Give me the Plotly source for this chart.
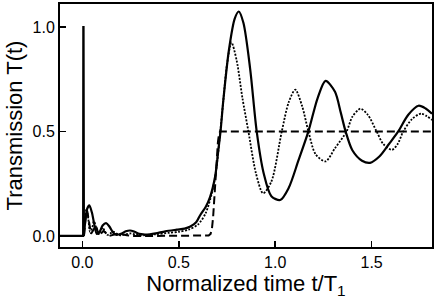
import plotly.graph_objects as go

# ---- data ----
spike_t = [-0.116, 0.004, 0.005, 0.006, 0.008]
spike_T = [0.0, 0.0, 1.0, 1.0, 0.0]

solid_t = [0.008, 0.015, 0.025, 0.036, 0.05, 0.063, 0.075, 0.09, 0.105, 0.123, 0.14, 0.16, 0.178, 0.2, 0.225,
           0.247, 0.27, 0.295, 0.316, 0.35, 0.38, 0.43, 0.49, 0.53, 0.56, 0.59, 0.61, 0.64, 0.662, 0.688,
           0.705, 0.717, 0.731, 0.76, 0.79, 0.811, 0.835, 0.87, 0.904, 0.94, 0.98, 1.026, 1.07, 1.12,
           1.172, 1.22, 1.261, 1.31, 1.34, 1.365, 1.4, 1.45, 1.492, 1.54, 1.59, 1.638, 1.69, 1.743,
           1.78, 1.813]
solid_T = [0.0, 0.07, 0.13, 0.146, 0.11, 0.05, 0.01, 0.02, 0.05, 0.061, 0.045, 0.015, 0.005, 0.01, 0.022,
           0.026, 0.02, 0.01, 0.007, 0.008, 0.012, 0.022, 0.03, 0.035, 0.045, 0.065, 0.098, 0.14, 0.186, 0.282,
           0.41, 0.506, 0.65, 0.89, 1.04, 1.074, 1.02, 0.8, 0.5, 0.3, 0.19, 0.172, 0.23, 0.36,
           0.5, 0.66, 0.742, 0.69, 0.59, 0.5, 0.41, 0.36, 0.35, 0.38, 0.44, 0.5, 0.58, 0.623,
           0.61, 0.585]

dotted_t = [0.008, 0.014, 0.022, 0.031, 0.04, 0.05, 0.06, 0.072, 0.085, 0.095, 0.105, 0.118, 0.13, 0.145,
            0.16, 0.18, 0.2, 0.225, 0.25, 0.275, 0.3, 0.38, 0.45, 0.5, 0.55, 0.6, 0.64, 0.67, 0.69, 0.71,
            0.73, 0.75, 0.773, 0.8, 0.83, 0.861, 0.9, 0.937, 0.98, 1.034, 1.07, 1.104, 1.14, 1.172, 1.21,
            1.261, 1.31, 1.37, 1.4, 1.442, 1.48, 1.526, 1.56, 1.606, 1.635, 1.664, 1.71, 1.757, 1.813]
dotted_T = [0.0, 0.09, 0.13, 0.08, 0.02, 0.035, 0.07, 0.04, 0.01, 0.025, 0.04, 0.02, 0.005, 0.012,
            0.02, 0.01, 0.003, 0.008, 0.012, 0.007, 0.003, 0.008, 0.015, 0.02, 0.03, 0.055, 0.11, 0.2, 0.29, 0.45,
            0.64, 0.82, 0.926, 0.84, 0.66, 0.5, 0.3, 0.204, 0.26, 0.5, 0.64, 0.70, 0.62, 0.5, 0.39,
            0.357, 0.42, 0.5, 0.57, 0.609, 0.58, 0.5, 0.44, 0.412, 0.44, 0.5, 0.56, 0.585, 0.555]

dashed_t = [0.008, 0.016, 0.025, 0.035, 0.045, 0.058, 0.07, 0.08, 0.09, 0.1, 0.11, 0.125, 0.14, 0.17,
            0.2, 0.23, 0.26, 0.35, 0.45, 0.55, 0.62, 0.655, 0.665, 0.672, 0.678, 0.685, 0.695, 0.703, 0.709,
            0.714, 1.813]
dashed_T = [0.0, 0.08, 0.12, 0.06, 0.01, 0.03, 0.05, 0.02, 0.0, 0.015, 0.025, 0.01, 0.0, 0.008,
            0.01, 0.003, 0.0, 0.0, 0.0, 0.0, 0.0, 0.002, 0.01, 0.035, 0.09, 0.2, 0.36, 0.45, 0.49,
            0.5, 0.5]

x_ticks = [0.0, 0.5, 1.0, 1.5]
x_tick_labels = ["0.0", "0.5", "1.0", "1.5"]
y_ticks = [0.0, 0.5, 1.0]
y_tick_labels = ["0.0", "0.5", "1.0"]

FONT = "Liberation Sans, Arial, Helvetica, sans-serif"

fig = go.Figure()
fig.add_trace(go.Scatter(x=dashed_t, y=dashed_T, mode="lines",
                         line=dict(color="black", width=2, dash="8px,4px")))
fig.add_trace(go.Scatter(x=dotted_t, y=dotted_T, mode="lines",
                         line=dict(color="black", width=1.8, dash="2px,1.5px", shape="spline", smoothing=0.8)))
fig.add_trace(go.Scatter(x=solid_t, y=solid_T, mode="lines",
                         line=dict(color="black", width=2.2, shape="spline", smoothing=0.8)))
fig.add_trace(go.Scatter(x=spike_t, y=spike_T, mode="lines",
                         line=dict(color="black", width=2.2)))

axis_common = dict(showgrid=False, zeroline=False, showline=True, linecolor="black", linewidth=2,
                   mirror=True, ticks="inside", ticklen=6, tickwidth=1.5, tickcolor="black",
                   automargin=False,
                   tickfont=dict(family=FONT, size=16, color="black"))

fig.update_layout(
    width=436, height=304,
    margin=dict(l=60, r=4, t=4, b=57),
    paper_bgcolor="white", plot_bgcolor="white",
    showlegend=False,
    hovermode=False,
    xaxis=dict(range=[-0.116, 1.813], tickvals=x_ticks, ticktext=x_tick_labels,
               title=dict(text="Normalized time t/T<sub>1</sub>", font=dict(family=FONT, size=22, color="black"),
                          standoff=2),
               **axis_common),
    yaxis=dict(range=[-0.053, 1.11], tickvals=y_ticks, ticktext=y_tick_labels,
               title=dict(text="Transmission T(t)", font=dict(family=FONT, size=22, color="black"),
                          standoff=4),
               **axis_common),
)

fig.write_html("out.html", config={"displayModeBar": False, "staticPlot": True},
               post_script="document.body.style.margin='0';document.body.style.overflow='hidden';")
